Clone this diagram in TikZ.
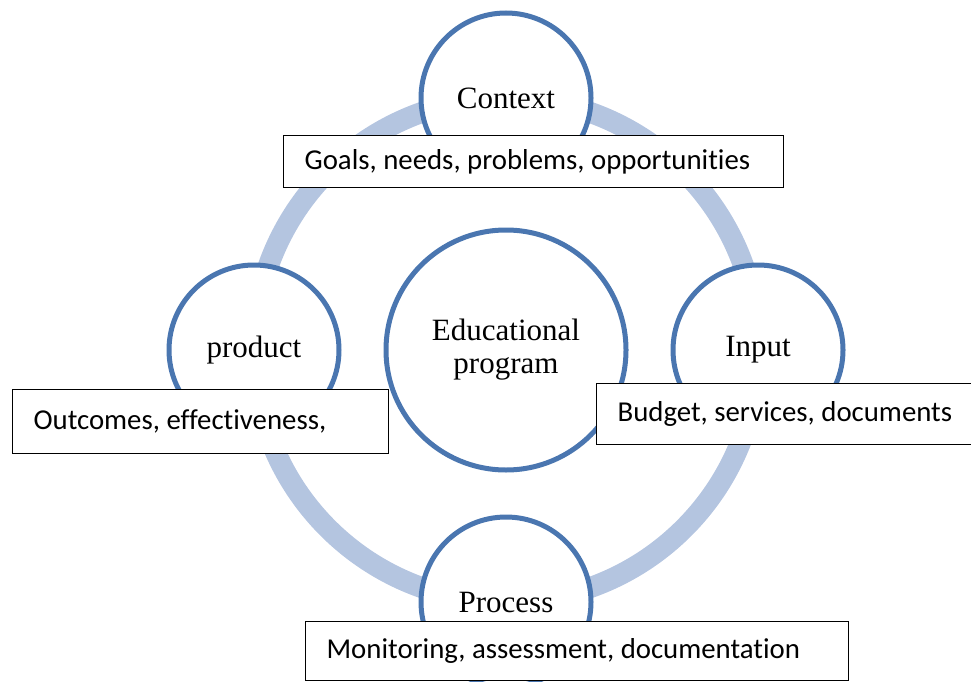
\documentclass[tikz,border=0pt]{standalone}
\usepackage{fontspec}
\setmainfont{Liberation Serif}
\newfontfamily\notefont[Ligatures=NoCommon]{Carlito}
\usetikzlibrary{positioning}

\definecolor{ringblue}{RGB}{180,197,224}
\definecolor{edgeblue}{RGB}{74,118,176}

\tikzset{
  phase/.style={circle, draw=edgeblue, line width=5pt, fill=white,
    minimum size=170pt, inner sep=0pt, font=\fontsize{31}{33}\selectfont},
  hub/.style={phase, minimum size=240pt, align=center},
  note/.style={draw, line width=1.2pt, fill=white, anchor=north west,
    align=flush left, inner xsep=0pt, inner ysep=0pt,
    execute at begin node={\hspace*{21pt}},
    font=\notefont\fontsize{28.8}{33}\selectfont}
}

\begin{document}
\begin{tikzpicture}[x=1pt, y=-1pt, node distance=252pt, on grid]
  \useasboundingbox (0,0) rectangle (971,682);
  \coordinate (mid) at (506,350);
  % the cycle
  \draw[ringblue, line width=21pt] (mid) circle[radius=252];

  \node[hub] (program) at (mid) {Educational\\program};
  \node[phase] (context) [above=of program] {Context};
  \node[phase] (input) [right=of program] {Input};
  \node[phase] (process) [below=of program] {Process};
  \node[phase] (product) [left=of program] {product};

  % descriptions
  \node[note, text width=500pt, minimum height=52pt] (goals) at (283,135) {Goals, needs, problems, opportunities};
  \node[note, text width=375pt, minimum height=61pt] (budget) at (596,383) {Budget, services, documents};
  \node[note, text width=376pt, minimum height=64pt] (outcomes) at (12,389) {Outcomes, effectiveness,};
  \node[note, text width=543pt, minimum height=59pt] (monitoring) at (305,621) {Monitoring, assessment, documentation};
\end{tikzpicture}
\end{document}
